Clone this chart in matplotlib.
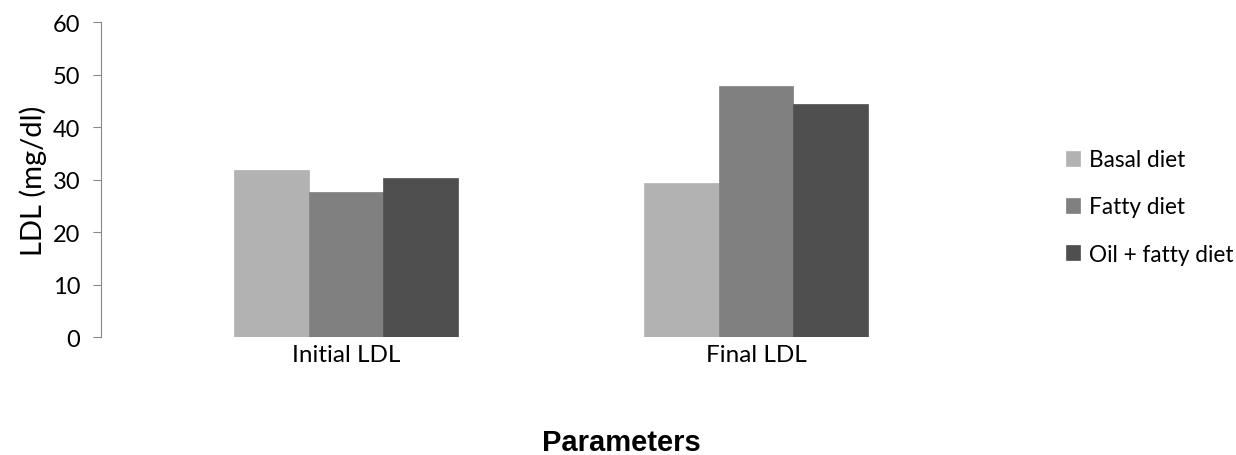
import numpy as np
import matplotlib
matplotlib.use("Agg")
import matplotlib.pyplot as plt

# values
categories = ["Initial LDL", "Final LDL"]
series = ["Basal diet", "Fatty diet", "Oil + fatty diet"]
basal = [31.9, 29.3]
fatty = [27.6, 47.8]
oil_fatty = [30.3, 44.4]
colors = ["#b2b2b2", "#808080", "#4f4f4f"]

plt.rcParams['font.family'] = ['Lato', 'DejaVu Sans']

fig = plt.figure(figsize=(12.36, 4.56), dpi=100)
ax = fig.add_axes([101 / 1236, 117.7 / 456, 899 / 1236, 315 / 456])

x = np.arange(len(categories))
width = 0.182
for i, (vals, name) in enumerate(zip([basal, fatty, oil_fatty], series)):
    ax.bar(x + (i - 1) * width, vals, width, color=colors[i], label=name,
           edgecolor=colors[i], linewidth=0.5)

ax.set_xlim(-0.597, 1.595)
ax.set_ylim(0, 60)
ax.set_yticks(np.arange(0, 61, 10))
ax.set_xticks(x)
ax.set_xticklabels(categories, fontsize=17.5)
ax.tick_params(axis='x', length=0, pad=5)
ax.tick_params(axis='y', labelsize=17, length=6, color="#888888", pad=9)

for s in ["top", "right", "bottom"]:
    ax.spines[s].set_visible(False)
ax.spines["left"].set_color("#888888")

ax.set_ylabel("LDL (mg/dl)", fontsize=21, labelpad=4)

fig.legend(loc="center left", bbox_to_anchor=(1046 / 1236, (456 - 208) / 456),
           frameon=False, fontsize=16.3, handlelength=0.6, handleheight=0.6,
           handletextpad=0.4, labelspacing=1.15)

fig.text(0.503, 0.028, "Parameters", ha="center", va="center",
         fontsize=21, fontweight="bold", family="Liberation Sans")

fig.savefig("out.png", dpi=100)
